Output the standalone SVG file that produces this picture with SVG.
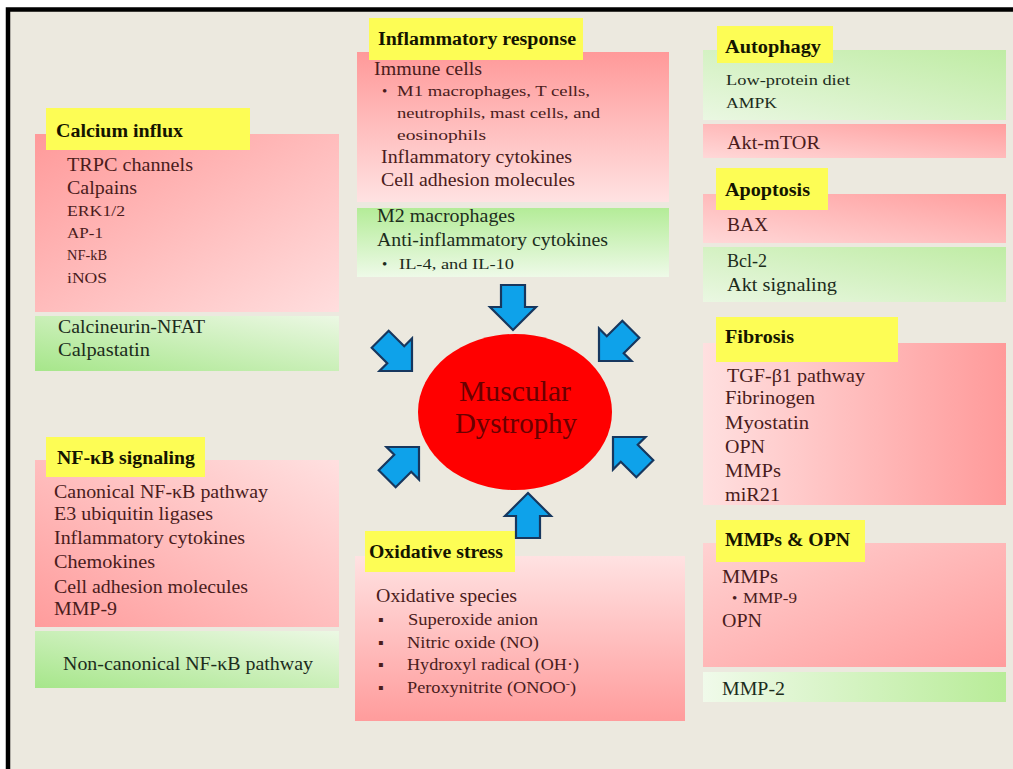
<svg xmlns="http://www.w3.org/2000/svg" width="1013" height="769" viewBox="0 0 1013 769">
<defs>
<linearGradient id="pkDiag" x1="0" y1="0" x2="1" y2="1"><stop offset="0" stop-color="#ff9a9a"/><stop offset="1" stop-color="#ffdede"/></linearGradient>
<linearGradient id="pkDown" x1="0" y1="0" x2="0" y2="1"><stop offset="0" stop-color="#ff9999"/><stop offset="1" stop-color="#ffe2e2"/></linearGradient>
<linearGradient id="pkUp" x1="0" y1="1" x2="0" y2="0"><stop offset="0" stop-color="#ff9c9c"/><stop offset="1" stop-color="#ffe2e2"/></linearGradient>
<linearGradient id="pkNF" x1="1" y1="0" x2="0" y2="1"><stop offset="0" stop-color="#ffe0e0"/><stop offset="1" stop-color="#ff9c9c"/></linearGradient>
<linearGradient id="pkRight" x1="0" y1="1" x2="1" y2="0"><stop offset="0" stop-color="#ffd8d8"/><stop offset="1" stop-color="#ff9e9e"/></linearGradient>
<linearGradient id="pkH" x1="0" y1="0" x2="1" y2="0"><stop offset="0" stop-color="#ffe0e0"/><stop offset="1" stop-color="#ff9a9a"/></linearGradient>
<linearGradient id="pkMM" x1="0" y1="0" x2="1" y2="1"><stop offset="0" stop-color="#ffd2d2"/><stop offset="1" stop-color="#ff9c9c"/></linearGradient>
<linearGradient id="grL" x1="0" y1="1" x2="1" y2="0"><stop offset="0" stop-color="#a6e68a"/><stop offset="1" stop-color="#ecf8e4"/></linearGradient>
<linearGradient id="grDown" x1="0" y1="0" x2="0" y2="1"><stop offset="0" stop-color="#b4ec98"/><stop offset="1" stop-color="#eefae8"/></linearGradient>
<linearGradient id="grTR" x1="0" y1="1" x2="1" y2="0"><stop offset="0" stop-color="#eaf7e2"/><stop offset="1" stop-color="#bfeca4"/></linearGradient>
<linearGradient id="grR" x1="0" y1="0" x2="1" y2="0"><stop offset="0" stop-color="#f0faea"/><stop offset="1" stop-color="#b8ec98"/></linearGradient>
<path id="arr" d="M -12,-45 L 12,-45 L 12,-23 L 23,-23 L 0,0 L -23,-23 L -12,-23 Z"/>
</defs>
<style>
text{font-family:"Liberation Serif","Times New Roman",serif}
.h{font-weight:bold;font-size:18px;fill:#141400}
.t{font-size:18px;fill:#4a1c1c}
.s{font-size:15px;fill:#4a1c1c}
.o{font-size:16px;fill:#4a1c1c}
.g{fill:#1c2c1c}
.y{fill:#fdfd55}
.a{fill:#0ea2ea;stroke:#17375e;stroke-width:2.2;stroke-linejoin:miter}
.m{font-size:30px;fill:#6a0000}
</style>
<rect width="1013" height="769" fill="#ffffff"/>
<rect x="8" y="9" width="1005" height="760" fill="#ece9df"/>
<path d="M 8,769 L 8,9.5 L 1013,9.5" fill="none" stroke="#000" stroke-width="4.5"/>

<g id="calcium-influx">
<rect x="35" y="134" width="304" height="178" fill="url(#pkDiag)"/>
<rect x="35" y="316" width="304" height="55" fill="url(#grL)"/>
<rect class="y" x="46" y="108" width="204" height="42"/>
<text class="h" x="56" y="137" textLength="127" lengthAdjust="spacingAndGlyphs">Calcium influx</text>
<text class="t" x="67" y="171" textLength="126" lengthAdjust="spacingAndGlyphs">TRPC channels</text>
<text class="t" x="67" y="194" textLength="70" lengthAdjust="spacingAndGlyphs">Calpains</text>
<text class="s" x="67" y="216" textLength="58" lengthAdjust="spacingAndGlyphs">ERK1/2</text>
<text class="s" x="67" y="238" textLength="36" lengthAdjust="spacingAndGlyphs">AP-1</text>
<text class="s" x="67" y="260" textLength="40" lengthAdjust="spacingAndGlyphs">NF-kB</text>
<text class="s" x="67" y="283" textLength="40" lengthAdjust="spacingAndGlyphs">iNOS</text>
<text class="t g" x="58" y="333" textLength="147" lengthAdjust="spacingAndGlyphs">Calcineurin-NFAT</text>
<text class="t g" x="58" y="356" textLength="92" lengthAdjust="spacingAndGlyphs">Calpastatin</text>
</g>

<g id="inflammatory-response">
<rect x="357" y="52" width="312" height="150" fill="url(#pkDown)"/>
<rect x="357" y="208" width="312" height="69" fill="url(#grDown)"/>
<rect class="y" x="369" y="18" width="214" height="42"/>
<text class="h" x="378" y="45" textLength="198" lengthAdjust="spacingAndGlyphs">Inflammatory response</text>
<text class="t" x="374" y="75" textLength="108" lengthAdjust="spacingAndGlyphs">Immune cells</text>
<text class="s" x="382" y="96">•</text>
<text class="s" x="397" y="96" textLength="193" lengthAdjust="spacingAndGlyphs">M1 macrophages, T cells,</text>
<text class="s" x="397" y="118" textLength="203" lengthAdjust="spacingAndGlyphs">neutrophils, mast cells, and</text>
<text class="s" x="397" y="140" textLength="89" lengthAdjust="spacingAndGlyphs">eosinophils</text>
<text class="t" x="381" y="163" textLength="191" lengthAdjust="spacingAndGlyphs">Inflammatory cytokines</text>
<text class="t" x="381" y="186" textLength="194" lengthAdjust="spacingAndGlyphs">Cell adhesion molecules</text>
<text class="t g" x="377" y="222" textLength="138" lengthAdjust="spacingAndGlyphs">M2 macrophages</text>
<text class="t g" x="377" y="246" textLength="231" lengthAdjust="spacingAndGlyphs">Anti-inflammatory cytokines</text>
<text class="s g" x="382" y="269">•</text>
<text class="s g" x="399" y="269" textLength="115" lengthAdjust="spacingAndGlyphs">IL-4, and IL-10</text>
</g>

<g id="autophagy">
<rect x="703" y="50" width="303" height="70" fill="url(#grTR)"/>
<rect x="703" y="124" width="303" height="34" fill="url(#pkRight)"/>
<rect class="y" x="717" y="26" width="116" height="37"/>
<text class="h" x="725" y="53" textLength="96" lengthAdjust="spacingAndGlyphs">Autophagy</text>
<text class="s g" x="726" y="85" textLength="124" lengthAdjust="spacingAndGlyphs">Low-protein diet</text>
<text class="s g" x="726" y="108" textLength="51" lengthAdjust="spacingAndGlyphs">AMPK</text>
<text class="t" x="727" y="149" textLength="93" lengthAdjust="spacingAndGlyphs">Akt-mTOR</text>
</g>

<g id="apoptosis">
<rect x="703" y="194" width="303" height="49" fill="url(#pkRight)"/>
<rect x="703" y="247" width="303" height="55" fill="url(#grTR)"/>
<rect class="y" x="716" y="168" width="112" height="42"/>
<text class="h" x="725" y="196" textLength="85" lengthAdjust="spacingAndGlyphs">Apoptosis</text>
<text class="t" x="727" y="231" textLength="41" lengthAdjust="spacingAndGlyphs">BAX</text>
<text class="t g" x="727" y="267" textLength="40" lengthAdjust="spacingAndGlyphs">Bcl-2</text>
<text class="t g" x="727" y="291" textLength="110" lengthAdjust="spacingAndGlyphs">Akt signaling</text>
</g>

<g id="fibrosis">
<rect x="703" y="343" width="303" height="162" fill="url(#pkH)"/>
<rect class="y" x="716" y="317" width="182" height="45"/>
<text class="h" x="725" y="343" textLength="69" lengthAdjust="spacingAndGlyphs">Fibrosis</text>
<text class="t" x="727" y="382" textLength="138" lengthAdjust="spacingAndGlyphs">TGF-β1 pathway</text>
<text class="t" x="725" y="404" textLength="90" lengthAdjust="spacingAndGlyphs">Fibrinogen</text>
<text class="t" x="725" y="429" textLength="84" lengthAdjust="spacingAndGlyphs">Myostatin</text>
<text class="t" x="725" y="453" textLength="40" lengthAdjust="spacingAndGlyphs">OPN</text>
<text class="t" x="725" y="477" textLength="56" lengthAdjust="spacingAndGlyphs">MMPs</text>
<text class="t" x="725" y="501" textLength="55" lengthAdjust="spacingAndGlyphs">miR21</text>
</g>

<g id="mmps-opn">
<rect x="703" y="543" width="303" height="124" fill="url(#pkMM)"/>
<rect x="703" y="672" width="303" height="30" fill="url(#grR)"/>
<rect class="y" x="716" y="520" width="149" height="42"/>
<text class="h" x="725" y="546" textLength="125" lengthAdjust="spacingAndGlyphs">MMPs &amp; OPN</text>
<text class="t" x="722" y="583" textLength="56" lengthAdjust="spacingAndGlyphs">MMPs</text>
<text class="s" x="732" y="603">•</text>
<text class="s" x="743" y="603" textLength="54" lengthAdjust="spacingAndGlyphs">MMP-9</text>
<text class="t" x="722" y="627" textLength="40" lengthAdjust="spacingAndGlyphs">OPN</text>
<text class="t g" x="722" y="695" textLength="63" lengthAdjust="spacingAndGlyphs">MMP-2</text>
</g>

<g id="nfkb-signaling">
<rect x="35" y="460" width="304" height="167" fill="url(#pkNF)"/>
<rect x="35" y="631" width="304" height="57" fill="url(#grL)"/>
<rect class="y" x="46" y="437" width="159" height="40"/>
<text class="h" x="57" y="464" textLength="138" lengthAdjust="spacingAndGlyphs">NF-κB signaling</text>
<text class="t" x="54" y="498" textLength="214" lengthAdjust="spacingAndGlyphs">Canonical NF-κB pathway</text>
<text class="t" x="54" y="520" textLength="159" lengthAdjust="spacingAndGlyphs">E3 ubiquitin ligases</text>
<text class="t" x="54" y="544" textLength="191" lengthAdjust="spacingAndGlyphs">Inflammatory cytokines</text>
<text class="t" x="54" y="568" textLength="101" lengthAdjust="spacingAndGlyphs">Chemokines</text>
<text class="t" x="54" y="593" textLength="194" lengthAdjust="spacingAndGlyphs">Cell adhesion molecules</text>
<text class="t" x="54" y="615" textLength="63" lengthAdjust="spacingAndGlyphs">MMP-9</text>
<text class="t g" x="63" y="670" textLength="250" lengthAdjust="spacingAndGlyphs">Non-canonical NF-κB pathway</text>
</g>

<g id="oxidative-stress">
<rect x="355" y="556" width="330" height="165" fill="url(#pkUp)"/>
<rect class="y" x="365" y="531" width="150" height="41"/>
<text class="h" x="369" y="558" textLength="134" lengthAdjust="spacingAndGlyphs">Oxidative stress</text>
<text class="t" x="376" y="602" textLength="141" lengthAdjust="spacingAndGlyphs">Oxidative species</text>
<text class="o" x="378" y="625">▪</text>
<text class="o" x="378" y="648">▪</text>
<text class="o" x="378" y="670">▪</text>
<text class="o" x="378" y="693">▪</text>
<text class="o" x="408" y="625" textLength="130" lengthAdjust="spacingAndGlyphs">Superoxide anion</text>
<text class="o" x="407" y="648" textLength="132" lengthAdjust="spacingAndGlyphs">Nitric oxide (NO)</text>
<text class="o" x="407" y="670" textLength="172" lengthAdjust="spacingAndGlyphs">Hydroxyl radical (OH·)</text>
<text class="o" x="407" y="693" textLength="169" lengthAdjust="spacingAndGlyphs">Peroxynitrite (ONOO<tspan dy="-6" font-size="11">-</tspan><tspan dy="6">)</tspan></text>
</g>

<g id="muscular-dystrophy">
<ellipse cx="515" cy="412" rx="97" ry="78" fill="#ff0000"/>
<text class="m" x="515" y="401" text-anchor="middle" textLength="112" lengthAdjust="spacingAndGlyphs">Muscular</text>
<text class="m" x="516" y="433" text-anchor="middle" textLength="122" lengthAdjust="spacingAndGlyphs">Dystrophy</text>
</g>

<g id="connectors">
<use href="#arr" class="a" transform="translate(513,330)"/>
<use href="#arr" class="a" transform="translate(528,493) rotate(180)"/>
<use href="#arr" class="a" transform="translate(412,371) rotate(-45)"/>
<use href="#arr" class="a" transform="translate(599,361) rotate(45)"/>
<use href="#arr" class="a" transform="translate(419,447) rotate(-135)"/>
<use href="#arr" class="a" transform="translate(613,437) rotate(135)"/>
</g>
</svg>
